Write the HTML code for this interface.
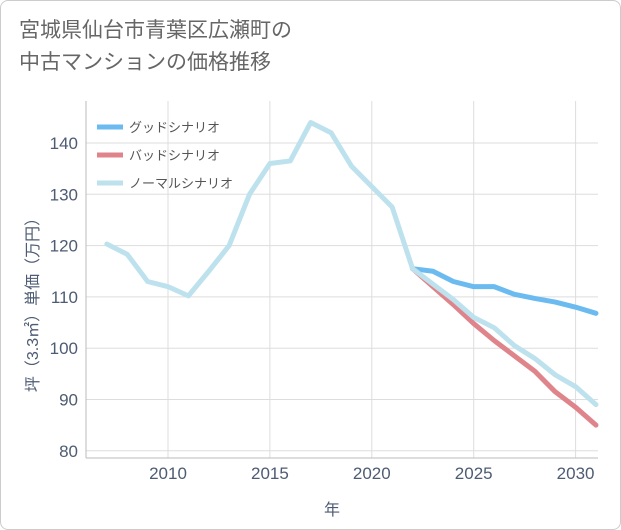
<!DOCTYPE html>
<html><head><meta charset="utf-8"><style>
body{margin:0;background:#fff;font-family:"Liberation Sans","Noto Sans CJK JP",sans-serif;}
#wrap{position:relative;width:619px;height:528px;border:1px solid #ccc;border-radius:8px;overflow:hidden;background:#fff;}
#title{position:absolute;left:18px;top:14px;font-size:21px;line-height:32px;color:#666;}
</style></head><body>
<div id="wrap">
<div id="title">宮城県仙台市青葉区広瀬町の<br>中古マンションの価格推移</div>
<svg id="chart" width="621" height="530" style="position:absolute;left:0;top:0"></svg>
</div>
<script>
const years=[2007,2008,2009,2010,2011,2012,2013,2014,2015,2016,2017,2018,2019,2020,2021,2022,2023,2024,2025,2026,2027,2028,2029,2030,2031];
const normal=[120.3,118.3,113,112,110.2,115,120,130,136,136.5,144,142,135.5,131.5,127.5,115.5,112.5,109.5,106,104,100.5,98,94.8,92.5,89];
const goodYears=[2022,2023,2024,2025,2026,2027,2028,2029,2030,2031];
const good=[115.5,115,113,112,112,110.5,109.7,109,108,106.8];
const bad=[115.5,112,108.5,104.8,101.5,98.5,95.5,91.5,88.5,85];
const yTicks=[80,90,100,110,120,130,140];
const xTicks=[2010,2015,2020,2025,2030];
const L=85,R=597,T=100,B=457;
const TC='#4d5b73';
const x=v=>167+(v-2010)*20.38;
const y=v=>142+(140-v)*5.13;
const svg=document.getElementById('chart');
const NS='http://www.w3.org/2000/svg';
function mk(t,a){const e=document.createElementNS(NS,t);for(const k in a)e.setAttribute(k,a[k]);svg.appendChild(e);return e;}
for(const t of yTicks){
 const g=mk('line',{x1:L,x2:R,y1:y(t),y2:y(t),stroke:'#ddd','stroke-width':1});
 
 
 const tx=mk('text',{x:77,y:y(t)+6,'text-anchor':'end','font-size':17,fill:TC});tx.textContent=t;
 
 
}
for(const t of xTicks){
 const g=mk('line',{x1:x(t),x2:x(t),y1:T,y2:B,stroke:'#ddd','stroke-width':1});
 
 
 const tx=mk('text',{x:x(t),y:478,'text-anchor':'middle','font-size':17,fill:TC});tx.textContent=t;
 
 
}
const ax=mk('line',{x1:L,x2:L,y1:T,y2:B,stroke:'#bbb'});


const ax2=mk('line',{x1:L,x2:R,y1:B,y2:B,stroke:'#bbb'});


function line(xs,vs,c,n){
 const p=mk('polyline',{points:xs.map((v,i)=>x(v)+','+y(vs[i])).join(' '),fill:'none',stroke:c,'stroke-width':5,'stroke-linejoin':'round','stroke-linecap':'round'});
 
 
}
line(goodYears,good,'#6bbbf0','good-scenario-line');
line(goodYears,bad,'#e0848c','bad-scenario-line');
line(years,normal,'#bde2ee','normal-scenario-line');
const legend=[['グッドシナリオ','#6bbbf0'],['バッドシナリオ','#e0848c'],['ノーマルシナリオ','#bde2ee']];
legend.forEach((l,i)=>{
 const ly=126+i*28;
 const s=mk('line',{x1:96,x2:122,y1:ly,y2:ly,stroke:l[1],'stroke-width':5});
 
 
 const t=mk('text',{x:128,y:ly+5,'font-size':13,fill:'#555'});t.textContent=l[0];
 
 
});
const xt=mk('text',{x:331,y:514,'text-anchor':'middle','font-size':16,fill:TC});xt.textContent='年';


const yt=mk('text',{x:0,y:0,'text-anchor':'middle','font-size':16,fill:TC,transform:'translate(37,300) rotate(-90)'});yt.textContent='坪（3.3㎡）単価（万円）';


</script>
</body></html>
